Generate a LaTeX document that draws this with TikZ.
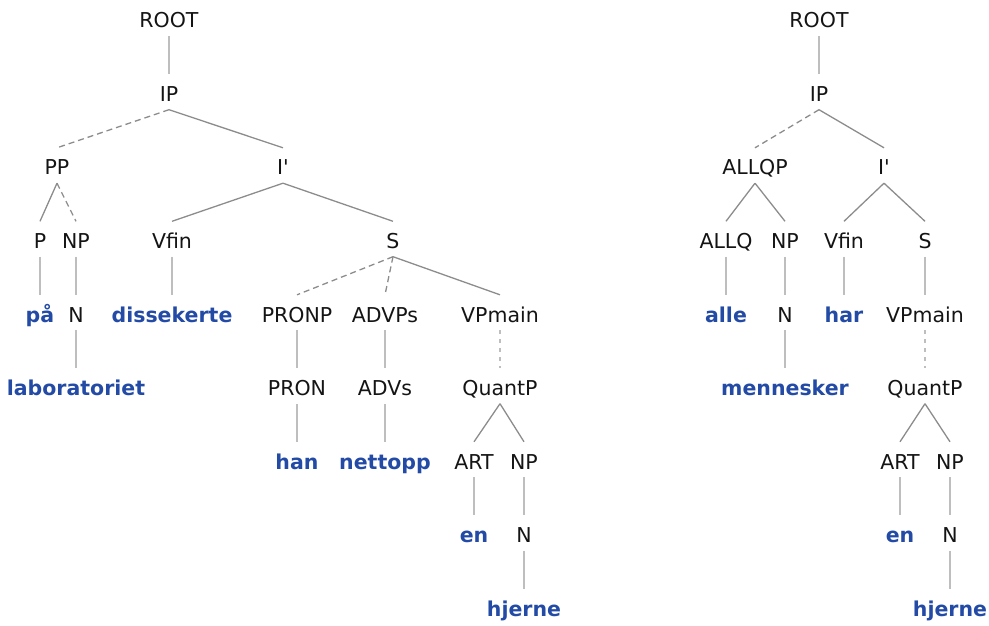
\documentclass[tikz,border=0pt]{standalone}
\usepackage{fontspec}
\setmainfont{DejaVu Sans}
\definecolor{TreeGrey}{RGB}{140,140,140}
\definecolor{StemGrey}{RGB}{190,190,190}
\definecolor{WordBlue}{RGB}{35,75,165}
\definecolor{CatBlack}{RGB}{20,20,20}

\begin{document}
\begin{tikzpicture}[x=1pt, y=-1pt,
  cat/.style={anchor=base, text height=19pt, text depth=0pt, inner xsep=1pt, inner ysep=8pt,
    font=\fontsize{20.5}{24}\selectfont, text=CatBlack},
  word/.style={cat, font=\fontsize{20.5}{24}\selectfont\bfseries, text=WordBlue},
  edge/.style={draw=TreeGrey, line width=1.3pt},
  stem/.style={draw=StemGrey, line width=2pt},
  gapedge/.style={edge, dash pattern=on 6pt off 4pt},
  dotedge/.style={stem, dash pattern=on 4pt off 5pt}]
\pgfmathsetmacro{\rh}{73.5} % row height
\pgfmathsetmacro{\ro}{28} % baseline of first row

\useasboundingbox (0,0) rectangle (989,626); % page

% left tree
\node[cat] (lroot) at (169,\ro) {ROOT};
\node[cat] (lip) at (169,\ro+\rh) {IP};
\node[cat] (pp) at (57,\ro+2*\rh) {PP};
\node[cat] (libar) at (283,\ro+2*\rh) {I\textquotesingle};
\node[cat] (p) at (40,\ro+3*\rh) {P};
\node[cat] (ppnp) at (76,\ro+3*\rh) {NP};
\node[cat] (lvfin) at (172,\ro+3*\rh) {Vfin};
\node[cat] (ls) at (393,\ro+3*\rh) {S};
\node[word] (paa) at (40,\ro+4*\rh) {på};
\node[cat] (ppn) at (76,\ro+4*\rh) {N};
\node[word] (dissekerte) at (172,\ro+4*\rh) {dissekerte};
\node[cat] (pronp) at (297,\ro+4*\rh) {PRONP};
\node[cat] (advps) at (385,\ro+4*\rh) {ADVPs};
\node[cat] (lvpmain) at (500,\ro+4*\rh) {VPmain};
\node[word] (laboratoriet) at (76,\ro+5*\rh) {laboratoriet};
\node[cat] (pron) at (297,\ro+5*\rh) {PRON};
\node[cat] (advs) at (385,\ro+5*\rh) {ADVs};
\node[cat] (lquantp) at (500,\ro+5*\rh) {QuantP};
\node[word] (han) at (297,\ro+6*\rh) {han};
\node[word] (nettopp) at (385,\ro+6*\rh) {nettopp};
\node[cat] (lart) at (474,\ro+6*\rh) {ART};
\node[cat] (lnp) at (524,\ro+6*\rh) {NP};
\node[word] (len) at (474,\ro+7*\rh) {en};
\node[cat] (ln) at (524,\ro+7*\rh) {N};
\node[word] (lhjerne) at (524,\ro+8*\rh) {hjerne};

\draw[stem] (lroot.south) -- (lip.north);
\draw[gapedge] (lip.south) -- (pp.north);
\draw[edge] (lip.south) -- (libar.north);
\draw[edge] (pp.south) -- (p.north);
\draw[gapedge] (pp.south) -- (ppnp.north);
\draw[edge] (libar.south) -- (lvfin.north);
\draw[edge] (libar.south) -- (ls.north);
\draw[stem] (p.south) -- (paa.north);
\draw[stem] (ppnp.south) -- (ppn.north);
\draw[stem] (lvfin.south) -- (dissekerte.north);
\draw[gapedge] (ls.south) -- (pronp.north);
\draw[gapedge] (ls.south) -- (advps.north);
\draw[edge] (ls.south) -- (lvpmain.north);
\draw[stem] (ppn.south) -- (laboratoriet.north);
\draw[stem] (pronp.south) -- (pron.north);
\draw[stem] (advps.south) -- (advs.north);
\draw[dotedge] (lvpmain.south) -- (lquantp.north);
\draw[stem] (pron.south) -- (han.north);
\draw[stem] (advs.south) -- (nettopp.north);
\draw[edge] (lquantp.south) -- (lart.north);
\draw[edge] (lquantp.south) -- (lnp.north);
\draw[stem] (lart.south) -- (len.north);
\draw[stem] (lnp.south) -- (ln.north);
\draw[stem] (ln.south) -- (lhjerne.north);

% right tree
\node[cat] (rroot) at (819,\ro) {ROOT};
\node[cat] (rip) at (819,\ro+\rh) {IP};
\node[cat] (allqp) at (755,\ro+2*\rh) {ALLQP};
\node[cat] (ribar) at (884,\ro+2*\rh) {I\textquotesingle};
\node[cat] (allq) at (726,\ro+3*\rh) {ALLQ};
\node[cat] (allqnp) at (785,\ro+3*\rh) {NP};
\node[cat] (rvfin) at (844,\ro+3*\rh) {Vfin};
\node[cat] (rs) at (925,\ro+3*\rh) {S};
\node[word] (alle) at (726,\ro+4*\rh) {alle};
\node[cat] (allqn) at (785,\ro+4*\rh) {N};
\node[word] (har) at (844,\ro+4*\rh) {har};
\node[cat] (rvpmain) at (925,\ro+4*\rh) {VPmain};
\node[word] (mennesker) at (785,\ro+5*\rh) {mennesker};
\node[cat] (rquantp) at (925,\ro+5*\rh) {QuantP};
\node[cat] (rart) at (900,\ro+6*\rh) {ART};
\node[cat] (rnp) at (950,\ro+6*\rh) {NP};
\node[word] (ren) at (900,\ro+7*\rh) {en};
\node[cat] (rn) at (950,\ro+7*\rh) {N};
\node[word] (rhjerne) at (950,\ro+8*\rh) {hjerne};

\draw[stem] (rroot.south) -- (rip.north);
\draw[gapedge] (rip.south) -- (allqp.north);
\draw[edge] (rip.south) -- (ribar.north);
\draw[edge] (allqp.south) -- (allq.north);
\draw[edge] (allqp.south) -- (allqnp.north);
\draw[edge] (ribar.south) -- (rvfin.north);
\draw[edge] (ribar.south) -- (rs.north);
\draw[stem] (allq.south) -- (alle.north);
\draw[stem] (allqnp.south) -- (allqn.north);
\draw[stem] (rvfin.south) -- (har.north);
\draw[stem] (rs.south) -- (rvpmain.north);
\draw[stem] (allqn.south) -- (mennesker.north);
\draw[dotedge] (rvpmain.south) -- (rquantp.north);
\draw[edge] (rquantp.south) -- (rart.north);
\draw[edge] (rquantp.south) -- (rnp.north);
\draw[stem] (rart.south) -- (ren.north);
\draw[stem] (rnp.south) -- (rn.north);
\draw[stem] (rn.south) -- (rhjerne.north);
\end{tikzpicture}
\end{document}
